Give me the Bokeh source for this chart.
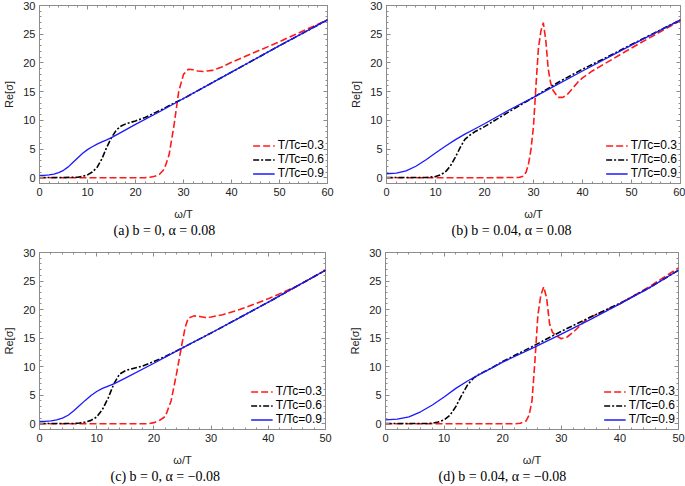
from bokeh.plotting import figure
from bokeh.layouts import column, row
from bokeh.models import (Range1d, LinearAxis, Legend, LegendItem, Title,
                          SingleIntervalTicker, CustomJSTickFormatter)
from bokeh.embed import file_html
from bokeh.resources import INLINE

# ---------------- data ----------------
# panel (a): b = 0, alpha = 0.08
a_x03 = [0, 5, 10, 15, 20, 22, 23, 24, 25, 26, 27, 28, 29, 30, 31, 32, 33, 34, 36, 38, 40, 45, 50, 55, 60]
a_y03 = [0, 0, 0, 0, 0, 0.02, 0.1, 0.25, 0.6, 1.5, 4.0, 9.0, 15.0, 18.0, 18.9, 18.8, 18.6, 18.5, 18.7, 19.3, 20.1, 21.9, 23.7, 25.6, 27.5]
a_x06 = [0, 5, 8, 9, 10, 11, 12, 13, 14, 15, 16, 17, 18, 20, 22, 24, 26, 28, 30, 40, 50, 60]
a_y06 = [0.05, 0.05, 0.1, 0.25, 0.5, 1.0, 1.8, 3.3, 5.3, 7.0, 8.3, 9.0, 9.4, 9.9, 10.5, 11.3, 12.1, 13.0, 13.8, 18.4, 23.0, 27.5]
a_x09 = [0, 1, 2, 3, 4, 5, 6, 7, 8, 9, 10, 11, 12, 13, 14, 15, 17, 20, 25, 30, 40, 50, 60]
a_y09 = [0.4, 0.42, 0.5, 0.65, 0.9, 1.3, 1.9, 2.7, 3.5, 4.25, 4.9, 5.4, 5.85, 6.25, 6.6, 7.0, 7.9, 9.3, 11.5, 13.8, 18.4, 23.0, 27.5]

# panel (b): b = 0.04, alpha = 0.08
b_x03 = [0, 10, 20, 27, 28, 28.5, 29, 29.5, 30, 30.5, 31, 31.5, 32, 32.5, 33, 33.5, 34, 35, 36, 37, 38, 39, 40, 42, 45, 50, 55, 60]
b_y03 = [0, 0, 0, 0.05, 0.3, 1.0, 2.5, 5.0, 9.0, 16.0, 22.5, 25.5, 27.0, 24.0, 19.0, 16.5, 15.2, 14.0, 14.0, 14.6, 15.6, 16.6, 17.4, 18.6, 20.1, 22.6, 25.0, 27.4]
b_x06 = [0, 8, 10, 11, 12, 13, 14, 15, 16, 17, 18, 20, 25, 30, 35, 40, 45, 50, 60]
b_y06 = [0.05, 0.05, 0.2, 0.5, 1.0, 2.0, 3.5, 5.2, 6.7, 7.4, 8.0, 8.9, 11.5, 14.0, 16.6, 18.9, 21.0, 23.2, 27.5]
b_x09 = [0, 2, 4, 6, 8, 10, 12, 14, 16, 18, 20, 25, 30, 40, 50, 60]
b_y09 = [0.7, 0.8, 1.2, 2.0, 3.1, 4.3, 5.5, 6.6, 7.6, 8.5, 9.4, 11.8, 14.0, 18.6, 23.1, 27.5]

# panel (c): b = 0, alpha = -0.08
c_x03 = [0, 10, 19, 20, 21, 22, 23, 24, 25, 25.5, 26, 27, 28, 29, 30, 32, 35, 40, 45, 50]
c_y03 = [0, 0, 0, 0.2, 0.6, 1.3, 4.0, 9.0, 14.5, 17.0, 18.5, 18.9, 18.8, 18.6, 18.7, 19.1, 20.0, 21.9, 24.1, 26.9]
c_x06 = [0, 6, 7, 8, 9, 10, 11, 12, 13, 14, 15, 16, 18, 20, 22, 24, 25, 30, 40, 50]
c_y06 = [0.05, 0.05, 0.15, 0.3, 0.6, 1.2, 2.5, 4.5, 7.0, 8.7, 9.3, 9.6, 10.1, 10.9, 11.8, 12.8, 13.3, 15.9, 21.3, 26.9]
c_x09 = [0, 1, 2, 3, 4, 5, 6, 7, 8, 9, 10, 11, 12, 13, 15, 20, 25, 30, 35, 40, 45, 50]
c_y09 = [0.4, 0.42, 0.5, 0.7, 1.0, 1.5, 2.3, 3.2, 4.1, 4.95, 5.65, 6.2, 6.6, 7.0, 8.0, 10.6, 13.3, 15.9, 18.6, 21.3, 24.1, 26.9]

# panel (d): b = 0.04, alpha = -0.08
d_x03 = [0, 10, 22, 23, 24, 24.5, 25, 25.5, 26, 26.5, 27, 27.5, 28, 28.5, 29, 30, 31, 32, 33, 34, 35, 40, 45, 50]
d_y03 = [0, 0, 0, 0.1, 0.5, 1.5, 4.0, 11.0, 19.0, 22.5, 24.0, 22.0, 17.5, 16.0, 15.5, 14.9, 15.2, 16.0, 17.0, 18.0, 18.7, 21.0, 24.0, 27.3]
d_x06 = [0, 7, 8, 9, 10, 11, 12, 13, 14, 15, 16, 18, 20, 25, 30, 35, 40, 45, 50]
d_y06 = [0.05, 0.05, 0.1, 0.3, 0.7, 1.5, 3.0, 5.0, 6.8, 8.0, 8.7, 9.7, 10.9, 13.5, 16.2, 18.7, 21.1, 23.8, 26.9]
d_x09 = [0, 2, 4, 6, 8, 10, 12, 14, 16, 18, 20, 25, 30, 35, 40, 45, 50]
d_y09 = [0.7, 0.8, 1.2, 2.1, 3.3, 4.7, 6.2, 7.5, 8.6, 9.7, 10.8, 13.2, 15.7, 18.3, 21.0, 23.8, 26.9]

legend_labels = ["T/Tc=0.3", "T/Tc=0.6", "T/Tc=0.9"]
x_ends = [60, 60, 50, 50]
captions = ["(a)  b = 0,  α = 0.08", "(b)  b = 0.04,  α = 0.08",
            "(c)  b = 0,  α = −0.08", "(d)  b = 0.04,  α = −0.08"]

SANS = "Liberation Sans"
SERIF = "Liberation Serif"
TICK_C = "#222222"
FRAME_C = "#8c8c8c"
Y0, Y1 = -1.0, 30.0


def make_panel(idx, curves, w, h, left, right, top, bottom, cap_offset):
    p = figure(width=w, height=h, output_backend="svg", toolbar_location=None,
               x_range=Range1d(0, x_ends[idx]), y_range=Range1d(Y0, Y1),
               min_border_left=left, min_border_right=right, min_border_top=top,
               min_border_bottom=bottom, x_axis_label="ω/T", y_axis_label="Re[σ]")
    p.grid.visible = False
    p.outline_line_color = FRAME_C
    p.outline_line_width = 1
    p.background_fill_color = "white"
    p.border_fill_color = "white"

    styles = [dict(color="#ff1a1a", line_width=1.6, line_dash="7 3"),
              dict(color="black", line_width=1.6, line_dash="6 2 2 2"),
              dict(color="#1a1aff", line_width=1.3)]
    renderers = []
    for (xs, ys), st in zip(curves, styles):
        renderers.append(p.line(xs, ys, **st))

    for ax in [p.xaxis[0], p.yaxis[0]]:
        ax.axis_line_color = None
        ax.major_tick_in = 4
        ax.major_tick_out = 0
        ax.minor_tick_in = 2
        ax.minor_tick_out = 0
        ax.major_tick_line_color = FRAME_C
        ax.minor_tick_line_color = FRAME_C
        ax.major_label_text_font = SANS
        ax.major_label_text_font_size = "11px"
        ax.major_label_text_color = TICK_C
        ax.axis_label_text_font = SANS
        ax.axis_label_text_font_size = "11px"
        ax.axis_label_text_font_style = "normal"
        ax.axis_label_text_color = TICK_C
    p.xaxis[0].ticker = SingleIntervalTicker(interval=10, num_minor_ticks=5)
    p.yaxis[0].ticker = SingleIntervalTicker(interval=5, num_minor_ticks=5)
    p.xaxis[0].major_label_standoff = 4
    p.xaxis[0].axis_label_standoff = 9
    p.yaxis[0].major_label_standoff = 4
    p.yaxis[0].axis_label_standoff = 5

    blank = CustomJSTickFormatter(code="return ''")
    for loc, interval in [("right", 5), ("above", 10)]:
        ax = LinearAxis(ticker=SingleIntervalTicker(interval=interval, num_minor_ticks=5),
                        formatter=blank)
        ax.axis_line_color = None
        ax.major_tick_in = 4
        ax.major_tick_out = 0
        ax.minor_tick_in = 2
        ax.minor_tick_out = 0
        ax.major_tick_line_color = FRAME_C
        ax.minor_tick_line_color = FRAME_C
        ax.major_label_standoff = 0
        ax.major_label_text_font_size = "1px"
        p.add_layout(ax, loc)

    legend = Legend(items=[LegendItem(label=lab, renderers=[r])
                           for lab, r in zip(legend_labels, renderers)],
                    location="bottom_right")
    legend.border_line_color = None
    legend.background_fill_alpha = 0
    legend.label_text_font = SANS
    legend.label_text_font_size = "12px"
    legend.label_text_color = "black"
    legend.glyph_width = 22
    legend.glyph_height = 13
    legend.label_height = 13
    legend.spacing = 0
    legend.padding = 2
    legend.margin = 3
    legend.label_standoff = 3
    p.add_layout(legend)

    cap = Title(text=captions[idx], align="left", offset=cap_offset,
                text_font=SERIF, text_font_size="14px", text_font_style="normal",
                text_color="black", standoff=1, vertical_align="top",
                text_line_height=0.6)
    p.add_layout(cap, "below")
    return p


pa = make_panel(0, [(a_x03, a_y03), (a_x06, a_y06), (a_x09, a_y09)],
                340, 240, 34, 13, 5, 56, 74)
pb = make_panel(1, [(b_x03, b_y03), (b_x06, b_y06), (b_x09, b_y09)],
                345, 240, 46, 5, 5, 56, 65)
pc = make_panel(2, [(c_x03, c_y03), (c_x06, c_y06), (c_x09, c_y09)],
                340, 246, 32, 15, 12, 53, 71)
pd = make_panel(3, [(d_x03, d_y03), (d_x06, d_y06), (d_x09, d_y09)],
                345, 246, 45, 7, 12, 53, 53)

lay = column(row(pa, pb), row(pc, pd))
open("out.html", "w").write(file_html(lay, INLINE))
